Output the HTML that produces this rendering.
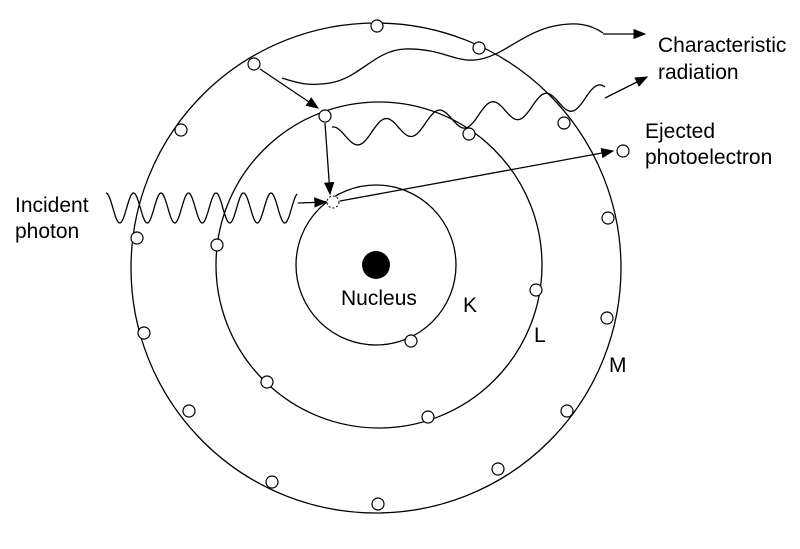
<!DOCTYPE html>
<html><head><meta charset="utf-8"><style>
body{margin:0;background:#fff}
svg{display:block;font-family:"Liberation Sans",Arial,sans-serif}
</style></head><body>
<svg width="800" height="549" viewBox="0 0 800 549">
<defs><marker id="ah" markerWidth="10" markerHeight="8" refX="9" refY="4" orient="auto"><path d="M0,0 L10,4 L0,8 Z" fill="#000"/></marker></defs>
<g fill="none" stroke="#000" stroke-width="1.3">
<circle cx="376" cy="268" r="245"/>
<circle cx="379" cy="265" r="163"/>
<circle cx="376" cy="265" r="80"/>
</g>
<circle cx="376" cy="265" r="14" fill="#000"/>
<g id="electrons" fill="#fff" stroke="#000" stroke-width="1.2"></g>
<circle cx="333" cy="202" r="6" fill="#fff" stroke="#000" stroke-dasharray="2,2"/>
<g fill="none" stroke="#000" stroke-width="1.3">
<path id="incident"/>
<line x1="298" y1="203" x2="326" y2="202" marker-end="url(#ah)"/>
<line x1="325" y1="123" x2="330" y2="194" marker-end="url(#ah)"/>
<line x1="260" y1="69" x2="318" y2="108" marker-end="url(#ah)"/>
<line x1="340" y1="201" x2="613" y2="151" marker-end="url(#ah)"/>
<path d="M282,78 C300,84 310,86 330,83 C360,78 375,50 405,49 C440,48 455,62 475,60 C500,58 520,35 550,27 C575,21 590,24 603,33"/>
<path id="rad1"/>
<line x1="603" y1="34" x2="645" y2="34" marker-end="url(#ah)"/>
<line x1="605" y1="98" x2="647" y2="77" marker-end="url(#ah)"/>
</g>
<circle cx="623" cy="151" r="6" fill="#fff" stroke="#000" stroke-width="1.2"/>
<g font-size="21" fill="#000">
<text x="15" y="212">Incident</text>
<text x="15" y="238">photon</text>
<text x="341" y="305">Nucleus</text>
<text x="463" y="312">K</text>
<text x="534" y="342">L</text>
<text x="609" y="372">M</text>
<text x="658" y="52">Characteristic</text>
<text x="658" y="79">radiation</text>
<text x="645" y="138">Ejected</text>
<text x="645" y="164">photoelectron</text>
</g>
<script>
const electrons=[[411,341],[325,116],[469,134],[536,290],[428,417],[267,382],[217,245],[377,26],[479,48],[254,64],[181,130],[564,123],[137,238],[608,218],[607,318],[144,333],[189,411],[567,411],[498,469],[272,482],[378,504]];
const g=document.getElementById('electrons');
electrons.forEach(p=>{const c=document.createElementNS('http://www.w3.org/2000/svg','circle');
c.setAttribute('cx',p[0]);c.setAttribute('cy',p[1]);c.setAttribute('r',6);


g.appendChild(c);});
function wave(x0,y0,x1,y1,amp,period,phase){let d='';const n=300;const len=Math.hypot(x1-x0,y1-y0);for(let i=0;i<=n;i++){const t=i/n;const x=x0+(x1-x0)*t,y=y0+(y1-y0)*t;const s=Math.sin(2*Math.PI*t*len/period+phase)*amp;d+=(i?'L':'M')+x.toFixed(1)+','+(y-s).toFixed(1);}return d;}
document.getElementById('incident').setAttribute('d',wave(106,208,297,208,15,27.5,Math.PI/2));
document.getElementById('rad1').setAttribute('d',wave(332,138,605,95,11,54,Math.PI/2));
</script>
</svg>
</body></html>
